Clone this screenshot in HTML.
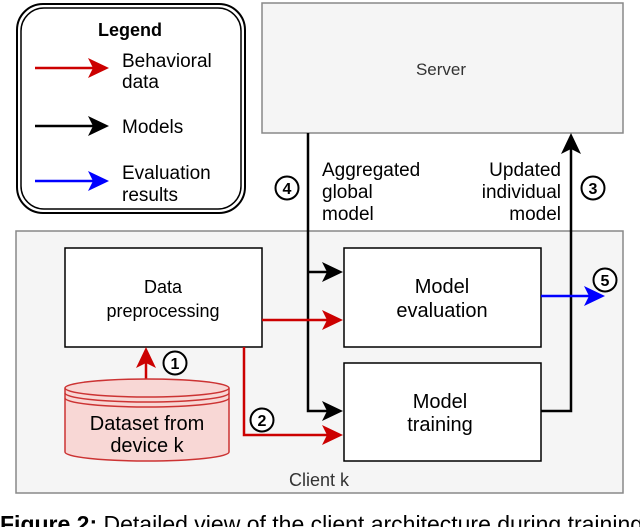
<!DOCTYPE html>
<html><head><style>
html,body{margin:0;padding:0;background:#fff;width:640px;height:527px;overflow:hidden}
svg{display:block}
text{font-family:"Liberation Sans",sans-serif}
</style></head><body>
<svg width="640" height="527" viewBox="0 0 640 527">
<!-- legend -->
<rect x="17" y="4" width="228" height="209" rx="26" fill="#fff" stroke="#000" stroke-width="2"/>
<rect x="21" y="8" width="220" height="201" rx="23" fill="none" stroke="#000" stroke-width="1.5"/>
<text x="130" y="36" font-size="18" font-weight="bold" text-anchor="middle">Legend</text>
<line x1="35" y1="68" x2="100" y2="68" stroke="#c00" stroke-width="2.5"/>
<path d="M88,58 L109,68 L88,78 L93,68Z" fill="#c00"/>
<text x="122" y="67" font-size="19">Behavioral</text>
<text x="122" y="88" font-size="19">data</text>
<line x1="35" y1="126" x2="100" y2="126" stroke="#000" stroke-width="2.5"/>
<path d="M88,116 L109,126 L88,136 L93,126Z" fill="#000"/>
<text x="122" y="133" font-size="19">Models</text>
<line x1="35" y1="181" x2="100" y2="181" stroke="#00f" stroke-width="2.5"/>
<path d="M88,171 L109,181 L88,191 L93,181Z" fill="#00f"/>
<text x="122" y="179" font-size="19">Evaluation</text>
<text x="122" y="201" font-size="19">results</text>
<!-- server -->
<rect x="262" y="3" width="361" height="130" fill="#f5f5f5" stroke="#888" stroke-width="1.5"/>
<text x="441" y="75" font-size="17" fill="#333" text-anchor="middle">Server</text>
<!-- client -->
<rect x="16" y="231" width="607" height="262" fill="#f5f5f5" stroke="#888" stroke-width="1.5"/>
<text x="319" y="486" font-size="18" fill="#333" text-anchor="middle">Client k</text>
<!-- black lines -->
<polyline points="308,133 308,411 333,411" fill="none" stroke="#000" stroke-width="2.5"/>
<line x1="308" y1="272" x2="333" y2="272" stroke="#000" stroke-width="2.5"/>
<path d="M322,262 L343,272 L322,282 L327,272Z" fill="#000"/>
<path d="M322,401 L343,411 L322,421 L327,411Z" fill="#000"/>
<polyline points="541,411 571,411 571,148" fill="none" stroke="#000" stroke-width="2.5"/>
<path d="M561,154 L571,133 L581,154 L571,149Z" fill="#000"/>
<text x="322" y="176" font-size="19">Aggregated</text>
<text x="322" y="198" font-size="19">global</text>
<text x="322" y="220" font-size="19">model</text>
<text x="561" y="176" font-size="19" text-anchor="end">Updated</text>
<text x="561" y="198" font-size="19" text-anchor="end">individual</text>
<text x="561" y="220" font-size="19" text-anchor="end">model</text>
<g font-size="16" font-weight="bold" text-anchor="middle">
<circle cx="287" cy="188" r="11.5" fill="#fff" stroke="#000" stroke-width="2"/><text x="287" y="194">4</text>
<circle cx="593" cy="188" r="11.5" fill="#fff" stroke="#000" stroke-width="2"/><text x="593" y="194">3</text>
</g>
<!-- boxes -->
<rect x="65" y="248" width="197" height="99" fill="#fff" stroke="#000" stroke-width="1.5"/>
<text x="163" y="293" font-size="18" text-anchor="middle">Data</text>
<text x="163" y="317" font-size="18" text-anchor="middle">preprocessing</text>
<rect x="344" y="248" width="197" height="99" fill="#fff" stroke="#000" stroke-width="1.5"/>
<text x="442" y="293" font-size="20" text-anchor="middle">Model</text>
<text x="442" y="317" font-size="20" text-anchor="middle">evaluation</text>
<rect x="344" y="363" width="197" height="98" fill="#fff" stroke="#000" stroke-width="1.5"/>
<text x="440" y="408" font-size="20" text-anchor="middle">Model</text>
<text x="440" y="431" font-size="20" text-anchor="middle">training</text>
<!-- red arrows -->
<line x1="262" y1="320" x2="333" y2="320" stroke="#c00" stroke-width="2.5"/>
<path d="M322,310 L343,320 L322,330 L327,320Z" fill="#c00"/>
<polyline points="244,347 244,435 333,435" fill="none" stroke="#c00" stroke-width="2.5"/>
<path d="M322,425 L343,435 L322,445 L327,435Z" fill="#c00"/>
<line x1="146" y1="380" x2="146" y2="360" stroke="#c00" stroke-width="2.5"/>
<path d="M136,368 L146,347 L156,368 L146,363Z" fill="#c00"/>
<!-- cylinder -->
<path d="M65,388 L65,452 A82,9 0 0 0 229,452 L229,388" fill="#f8d7d5" stroke="#c33" stroke-width="1.5"/>
<ellipse cx="147" cy="388" rx="82" ry="9" fill="#f8d7d5" stroke="#c33" stroke-width="1.5"/>
<path d="M65,393 A82,9 0 0 0 229,393 M65,398 A82,9 0 0 0 229,398" fill="none" stroke="#c33" stroke-width="1.5"/>
<text x="147" y="430" font-size="20" text-anchor="middle">Dataset from</text>
<text x="147" y="452" font-size="20" text-anchor="middle">device k</text>
<!-- blue -->
<line x1="541" y1="296" x2="593" y2="296" stroke="#00f" stroke-width="2.5"/>
<path d="M584,286 L605,296 L584,306 L589,296Z" fill="#00f"/>
<g font-size="16" font-weight="bold" text-anchor="middle">
<circle cx="175" cy="363" r="11.5" fill="#fff" stroke="#000" stroke-width="2"/><text x="175" y="369">1</text>
<circle cx="262" cy="420" r="11.5" fill="#fff" stroke="#000" stroke-width="2"/><text x="262" y="426">2</text>
<circle cx="605" cy="280" r="11.5" fill="#fff" stroke="#000" stroke-width="2"/><text x="605" y="286">5</text>
</g>
<!-- caption -->
<text x="0" y="532" font-size="23"><tspan font-weight="bold">Figure 2:</tspan> Detailed view of the client architecture during training</text>
</svg>
</body></html>
